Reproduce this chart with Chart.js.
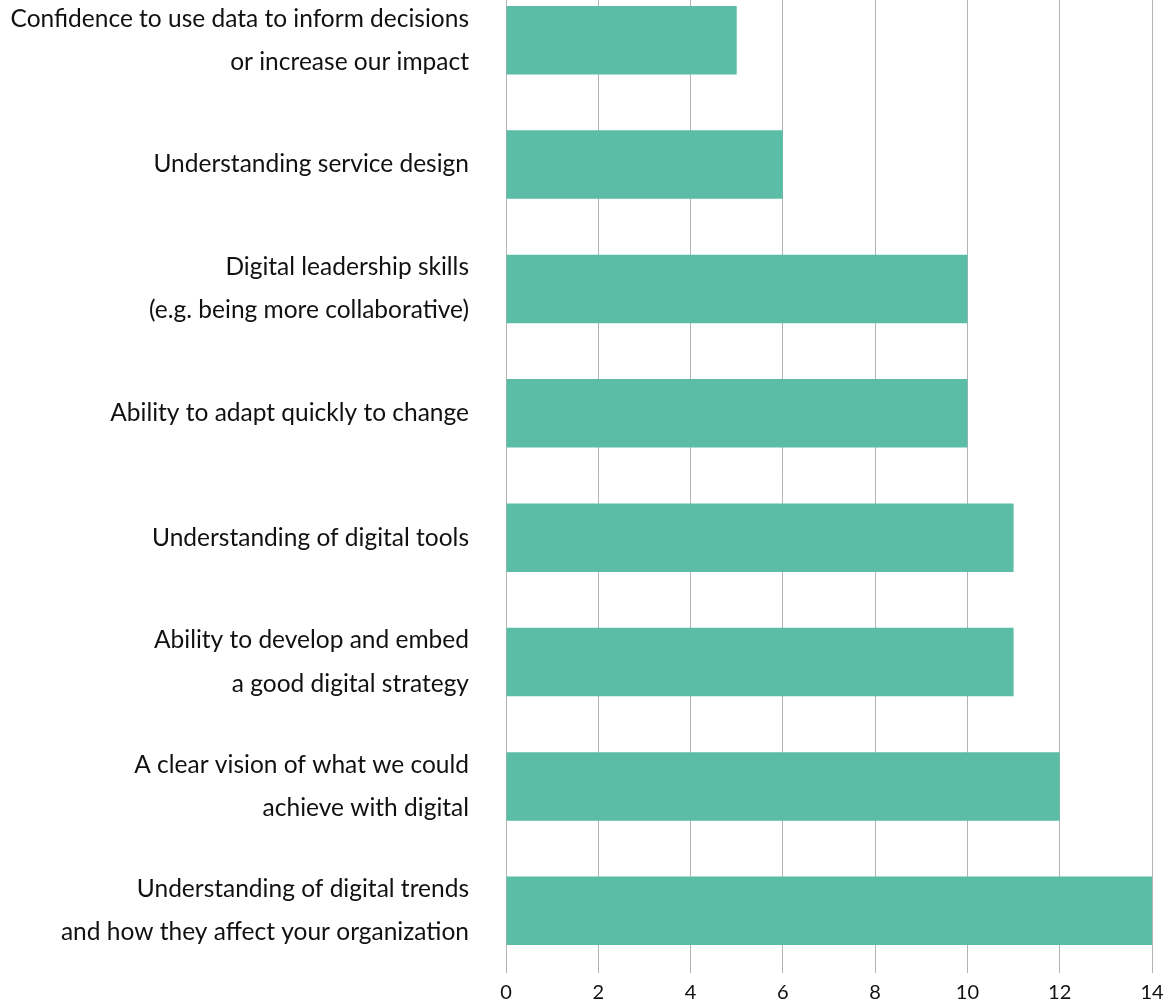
<!DOCTYPE html>
<html>
<head>
<meta charset="utf-8">
<script src="https://cdn.jsdelivr.net/npm/chart.js@4"></script>
<style>
  html, body { margin: 0; padding: 0; background: #fff; overflow: hidden; }
  #wrap { position: absolute; left: 0; top: -22px; width: 1169px; height: 1035px; }
</style>
</head>
<body>
<div id="wrap"><canvas id="skillsChart"></canvas></div>
<script>
// categories, top to bottom
var skillLabels = [
  ["Confidence to use data to inform decisions", "or increase our impact"],
  "Understanding service design",
  ["Digital leadership skills", "(e.g. being more collaborative)"],
  "Ability to adapt quickly to change",
  "Understanding of digital tools",
  ["Ability to develop and embed", "a good digital strategy"],
  ["A clear vision of what we could", "achieve with digital"],
  ["Understanding of digital trends", "and how they affect your organization"]
];
var skillCounts = [5, 6, 10, 10, 11, 11, 12, 14];
var xTicks = [0, 2, 4, 6, 8, 10, 12, 14];

const barColour = "#5bbda6";
const gridColour = "#b3b3b3";

const skillsChart = new Chart(document.getElementById("skillsChart"), {
  type: "bar",
  data: {
    labels: skillLabels,
    datasets: [
      {
        data: skillCounts,
        backgroundColor: barColour,
        borderWidth: 0,
        categoryPercentage: 1,
        barPercentage: 0.55,
      },
    ],
  },
  options: {
    indexAxis: "y",
    responsive: true,
    maintainAspectRatio: false,
    animation: false,
    layout: { padding: { top: 0, right: 17, bottom: 0, left: 0 } },
    plugins: {
      legend: { display: false },
      tooltip: { enabled: false },
    },
    scales: {
      x: {
        position: "bottom",
        min: xTicks[0],
        max: xTicks[xTicks.length - 1],
        afterBuildTicks: (scale) => {
          scale.ticks = xTicks.map((v) => ({ value: v }));
        },
        afterFit: (scale) => {
          // let the layout padding decide the right edge
          scale.paddingLeft = 0;
          scale.paddingRight = 0;
        },
        border: { display: false },
        grid: { color: gridColour, lineWidth: 1, drawTicks: false },
        ticks: {
          padding: 8,
          color: "#111",
          font: { family: "Lato", size: 20, lineHeight: 1.2 },
        },
      },
      y: {
        border: { display: false },
        grid: { display: false },
        afterFit: (scale) => {
          // fixed label column, no extra room above/below the bars
          scale.width = 506;
          scale.paddingTop = 0;
          scale.paddingBottom = 0;
        },
        ticks: {
          padding: 29,
          color: "#111",
          font: { family: "Lato", size: 24.5, lineHeight: 1.76 },
        },
      },
    },
  },
});
</script>
</body>
</html>
